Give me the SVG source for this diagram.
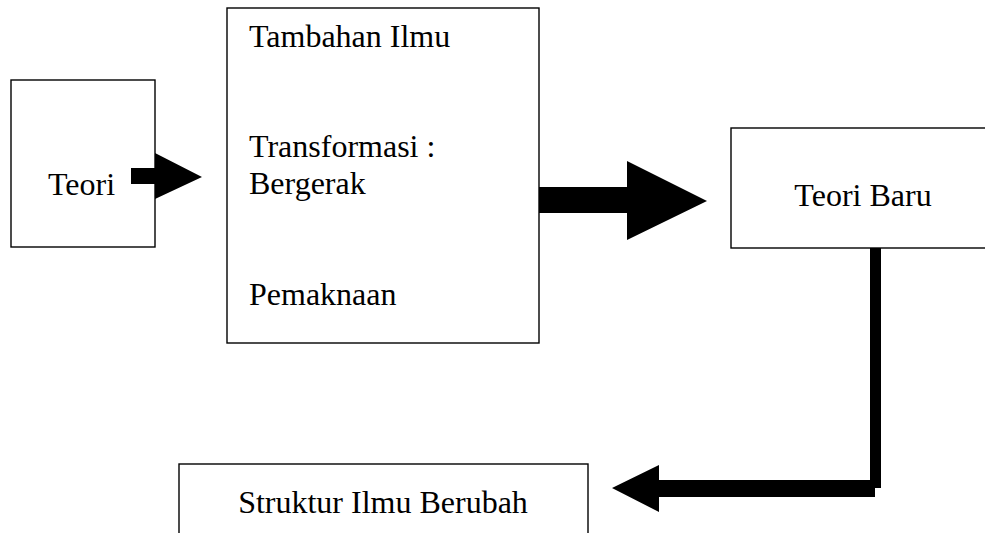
<svg xmlns="http://www.w3.org/2000/svg" width="985" height="533" viewBox="0 0 985 533">
<style>
.box{fill:#fff;stroke:#000;stroke-width:1.4}
.t{font-family:"Liberation Serif","Times New Roman",serif;font-size:32px;fill:#000}
.c{text-anchor:middle}
.arr{fill:#000;stroke:none}
</style>
<rect width="985" height="533" fill="#fff"/>
<g id="teori">
<rect class="box" x="11" y="80" width="144" height="167"/>
<text class="t" x="48" y="195">Teori</text>
</g>
<g id="proses">
<rect class="box" x="227" y="8" width="312" height="335"/>
<text class="t" x="249" y="47">Tambahan Ilmu</text>
<text class="t" x="249" y="157">Transformasi :</text>
<text class="t" x="249" y="194">Bergerak</text>
<text class="t" x="249" y="305">Pemaknaan</text>
</g>
<g id="teori-baru">
<rect class="box" x="731" y="128" width="270" height="120"/>
<text class="t c" x="863" y="206">Teori Baru</text>
</g>
<g id="struktur">
<rect class="box" x="179" y="464" width="409" height="80"/>
<text class="t c" x="383" y="513">Struktur Ilmu Berubah</text>
</g>
<g id="connectors">
<polygon class="arr" points="131,168 155,168 155,153 202,177 155,199 155,184 131,184"/>
<polygon class="arr" points="539,187 627,187 627,161 707,201 627,240 627,213 539,213"/>
<polygon class="arr" points="870,248 881,248 881,488 875,488 875,497 659,497 659,512 612,488 659,465 659,480 870,480"/>
</g>
</svg>
